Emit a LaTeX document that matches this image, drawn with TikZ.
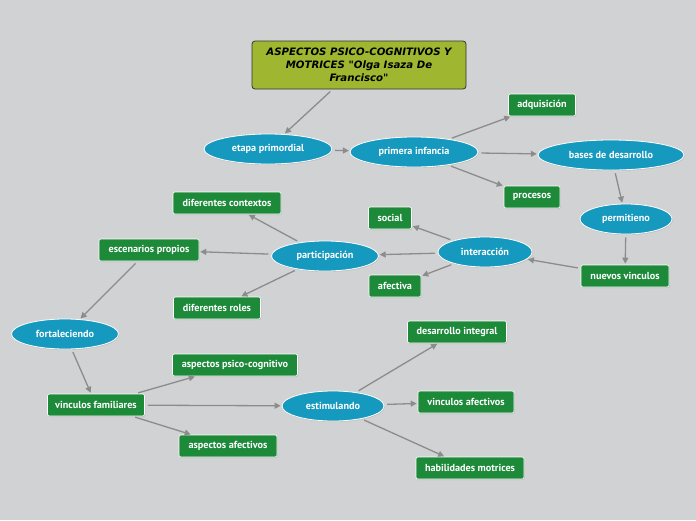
\documentclass[tikz,border=0pt]{standalone}
\usepackage{fontspec}
\setmainfont{PT Sans}
\newfontfamily\titlefont{DejaVu Sans}
\usetikzlibrary{shapes.geometric,arrows.meta,shadows}
\definecolor{bg}{HTML}{D1D2D4}
\definecolor{olive}{HTML}{9FB730}
\definecolor{teal}{HTML}{1699BE}
\definecolor{leaf}{HTML}{1D8A3A}
\definecolor{conn}{HTML}{8C8C8C}
\tikzset{
  oval/.style={ellipse, draw=white, line width=0.8pt, fill=teal, text=white,
    font=\bfseries\fontsize{10.2}{12}\selectfont, inner sep=0pt, minimum height=30pt,
    drop shadow={opacity=0.25, shadow xshift=0.8pt, shadow yshift=-1pt}},
  leafbox/.style={rectangle, rounded corners=2pt, draw=white, line width=0.6pt, fill=leaf, text=white,
    font=\bfseries\fontsize{10.2}{12}\selectfont, inner sep=0pt, minimum height=22pt,
    drop shadow={opacity=0.25, shadow xshift=0.8pt, shadow yshift=-1pt}},
  titlebox/.style={rectangle, rounded corners=3pt, draw=black!80, line width=0.8pt, fill=olive,
    font=\titlefont\bfseries\itshape\fontsize{10.2}{13}\selectfont, align=center, inner sep=0pt,
    minimum width=214pt, minimum height=48pt},
  link/.style={draw=conn, line width=1.3pt, -{Triangle[length=6pt,width=6pt]}, shorten <=3pt, shorten >=1pt}
}
\begin{document}
\begin{tikzpicture}[x=1pt,y=-1pt]
\fill[bg] (0,0) rectangle (696,520);
\useasboundingbox (0,0) rectangle (696,520);
\node[titlebox] (t) at (359,65) {ASPECTOS PSICO-COGNITIVOS Y\\MOTRICES "Olga Isaza De\\Francisco"};
\node[oval, minimum width=128pt] (ep) at (268,149) {etapa primordial};
\node[oval, minimum width=128pt] (pi) at (414,152) {primera infancia};
\node[leafbox, minimum width=67pt] (adq) at (542,105) {adquisición};
\node[oval, minimum width=146pt] (bd) at (611,155) {bases de desarrollo};
\node[leafbox, minimum width=56pt] (proc) at (532,197) {procesos};
\node[oval, minimum width=92pt] (perm) at (626,219) {permitieno};
\node[leafbox, minimum width=88pt] (nv) at (625,276) {nuevos vinculos};
\node[oval, minimum width=94pt] (int) at (485,252) {interacción};
\node[leafbox, minimum width=43pt] (soc) at (390,218) {social};
\node[leafbox, minimum width=52pt] (afe) at (395,286) {afectiva};
\node[oval, minimum width=107pt] (par) at (325,256) {participación};
\node[leafbox, minimum width=108pt] (dc) at (227,203) {diferentes contextos};
\node[leafbox, minimum width=100pt] (esc) at (149,250) {escenarios propios};
\node[leafbox, minimum width=87pt] (dr) at (217,308) {diferentes roles};
\node[oval, minimum width=107pt] (fort) at (65,334) {fortaleciendo};
\node[leafbox, minimum width=97pt] (vf) at (96,405) {vinculos familiares};
\node[leafbox, minimum width=125pt] (apc) at (235,365) {aspectos psico-cognitivo};
\node[leafbox, minimum width=98pt] (aa) at (228,446) {aspectos afectivos};
\node[oval, minimum width=102pt] (est) at (333,406) {estimulando};
\node[leafbox, minimum width=99pt] (di) at (457,332) {desarrollo integral};
\node[leafbox, minimum width=96pt] (va) at (466,402) {vinculos afectivos};
\node[leafbox, minimum width=108pt] (hm) at (470,468) {habilidades motrices};
\draw[link] (t) -- (ep);
\draw[link] (ep) -- (pi);
\draw[link] (pi) -- (adq);
\draw[link] (pi) -- (bd);
\draw[link] (pi) -- (proc);
\draw[link] (bd) -- (perm);
\draw[link] (perm) -- (nv);
\draw[link] (nv) -- (int);
\draw[link] (int) -- (soc);
\draw[link] (int) -- (par);
\draw[link] (int) -- (afe);
\draw[link] (par) -- (dc);
\draw[link] (par) -- (esc);
\draw[link] (par) -- (dr);
\draw[link] (esc) -- (fort);
\draw[link] (fort) -- (vf);
\draw[link] (vf) -- (apc);
\draw[link] (vf) -- (est);
\draw[link] (vf) -- (aa);
\draw[link] (est) -- (di);
\draw[link] (est) -- (va);
\draw[link] (est) -- (hm);
\end{tikzpicture}
\end{document}
